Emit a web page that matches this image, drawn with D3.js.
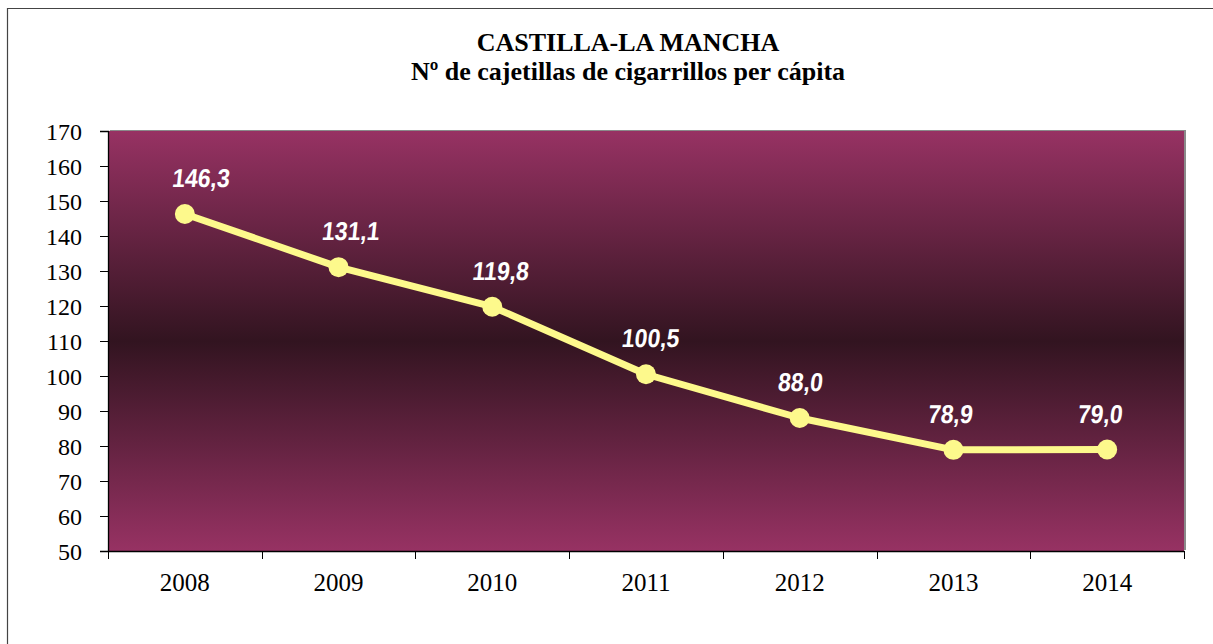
<!DOCTYPE html>
<html>
<head>
<meta charset="utf-8">
<script src="https://cdn.jsdelivr.net/npm/d3@7/dist/d3.min.js"></script>
<style>
  html, body { margin: 0; padding: 0; background: #fff; }
  svg { display: block; }
</style>
</head>
<body>
<svg id="chart" width="1213" height="644"></svg>
<script>
// Packs of cigarettes per capita, Castilla-La Mancha
const years = ["2008", "2009", "2010", "2011", "2012", "2013", "2014"];
const packs = [146.3, 131.1, 119.8, 100.5, 88.0, 78.9, 79.0];
const yTicks = [50, 60, 70, 80, 90, 100, 110, 120, 130, 140, 150, 160, 170];
const titleLines = ["CASTILLA-LA MANCHA", "Nº de cajetillas de cigarrillos per cápita"];

const svg = d3.select("#chart");
const plot = { left: 108, right: 1184, top: 131, bottom: 551 };

const x = d3.scaleBand().domain(years).range([plot.left, plot.right]).padding(0);
const y = d3.scaleLinear().domain([50, 170]).range([plot.bottom, plot.top]);

// outer frame (top and left edges)
svg.append("path")
  .attr("d", "M7.5,644 L7.5,8.5 L1213,8.5")
  .attr("fill", "none").attr("stroke", "#444").attr("stroke-width", 1.2);

const serif = "'Liberation Serif', 'Times New Roman', serif";

// title
svg.append("g").selectAll("text").data(titleLines).join("text")
  .attr("x", 628).attr("y", (d, i) => 51 + i * 29)
  .attr("text-anchor", "middle")
  .attr("font-family", serif)
  .attr("font-weight", "bold").attr("font-size", 26)
  .attr("fill", "#000").text(d => d);

// plot background gradient
const defs = svg.append("defs");
const grad = defs.append("linearGradient").attr("id", "bg")
  .attr("x1", 0).attr("y1", 0).attr("x2", 0).attr("y2", 1);
grad.append("stop").attr("offset", "0%").attr("stop-color", "#973263");
grad.append("stop").attr("offset", "50%").attr("stop-color", "#321420");
grad.append("stop").attr("offset", "100%").attr("stop-color", "#973263");

// shadow edge
svg.append("rect")
  .attr("x", plot.left + 2).attr("y", plot.top - 1)
  .attr("width", plot.right - plot.left).attr("height", plot.bottom - plot.top)
  .attr("fill", "#8a8a8a");
svg.append("rect")
  .attr("x", plot.left).attr("y", plot.top)
  .attr("width", plot.right - plot.left).attr("height", plot.bottom - plot.top)
  .attr("fill", "url(#bg)");

// y axis
const yAxis = svg.append("g")
  .attr("transform", `translate(${plot.left},0)`)
  .call(d3.axisLeft(y).tickValues(yTicks).tickSize(8).tickPadding(18).tickFormat(d3.format("d")));
yAxis.select(".domain").attr("stroke", "#000").attr("stroke-width", 1.3);
yAxis.selectAll(".tick line").attr("stroke", "#000");
yAxis.selectAll(".tick text")
  .attr("font-family", serif).attr("font-size", 24).attr("fill", "#000")
  .attr("dy", "0.34em");

// x axis with ticks at category boundaries
const xAxis = svg.append("g")
  .attr("transform", `translate(0,${plot.bottom})`)
  .call(d3.axisBottom(x).tickSize(0).tickPadding(22));
xAxis.select(".domain").attr("stroke", "#000").attr("stroke-width", 1.3);
xAxis.selectAll(".tick text")
  .attr("font-family", serif).attr("font-size", 25).attr("fill", "#000");
const bounds = years.map(d => x(d)).concat([x(years[years.length - 1]) + x.bandwidth()]);
xAxis.append("g").selectAll("line").data(bounds).join("line")
  .attr("x1", d => Math.round(d) + 0.5).attr("x2", d => Math.round(d) + 0.5)
  .attr("y1", 0).attr("y2", 8)
  .attr("stroke", "#000").attr("stroke-width", 1);

// series line
const cx = d => x(d) + x.bandwidth() / 2;
const pts = years.map((d, i) => ({ year: d, v: packs[i] }));
svg.append("path")
  .datum(pts)
  .attr("d", d3.line().x(d => cx(d.year)).y(d => y(d.v)))
  .attr("fill", "none").attr("stroke", "#fdf98c").attr("stroke-width", 7)
  .attr("stroke-linejoin", "round");

svg.append("g").selectAll("circle").data(pts).join("circle")
  .attr("cx", d => cx(d.year)).attr("cy", d => y(d.v)).attr("r", 10)
  .attr("fill", "#fdf98c");

// value labels: the label layer is slightly narrower than the plot, anchored on its centre
const fmt = v => v.toFixed(1).replace(".", ",");
const labelCentre = cx(years[4]);
const labelX = d => labelCentre + (cx(d.year) - labelCentre) * 0.975;
svg.append("g").selectAll("text").data(pts).join("text")
  .attr("transform", d => `translate(${labelX(d)},${y(d.v) - 27}) scale(1,1.12) skewX(-7)`)
  .attr("text-anchor", "middle")
  .attr("font-family", "'Liberation Sans', Arial, sans-serif")
  .attr("font-weight", "bold").attr("font-size", 23)
  .attr("fill", "#fff").text(d => fmt(d.v));
</script>
</body>
</html>
